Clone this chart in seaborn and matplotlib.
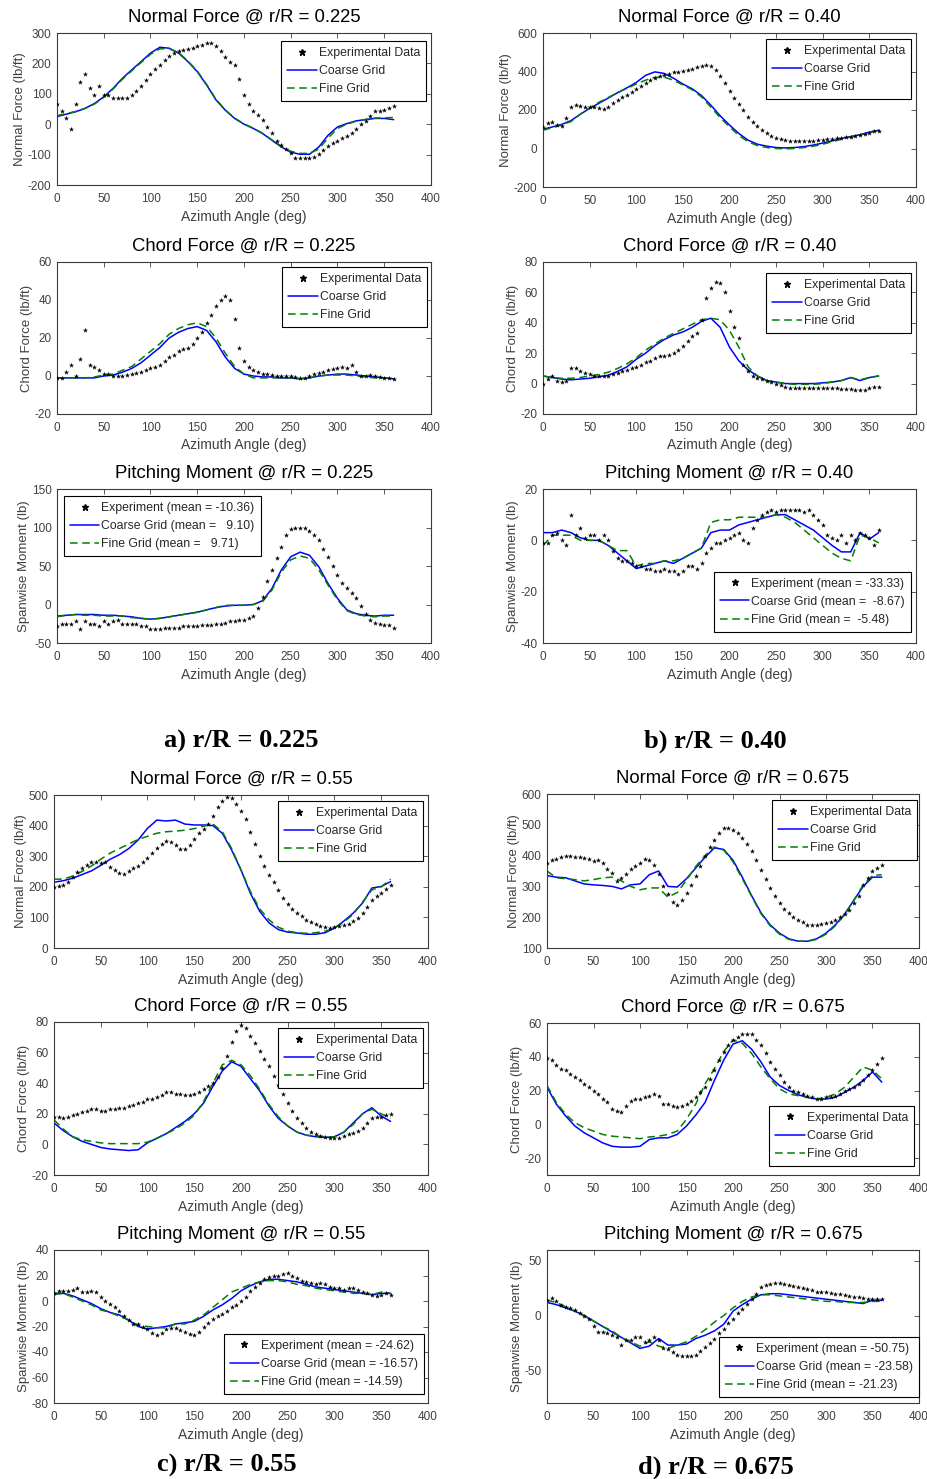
import matplotlib
matplotlib.use("Agg")
import matplotlib.pyplot as plt
import seaborn as sns
from matplotlib.lines import Line2D

# ---------------- data ----------------
EXP_AZ = list(range(0, 361, 5))
CFD_AZ = list(range(0, 361, 10))

# Normal force r/R = 0.225
NF225_EXP = [65, 45, 20, -15, 68, 140, 165, 120, 95, 125,
             95, 95, 85, 85, 85, 85, 95, 110, 125, 145,
             165, 180, 195, 210, 225, 235, 240, 243, 248, 252,
             256, 262, 268, 268, 258, 240, 222, 205, 195, 150,
             95, 65, 45, 30, 15, -10, -30, -55, -70, -80,
             -95, -110, -110, -110, -110, -108, -98, -85, -72, -62,
             -55, -45, -38, -28, -15, 0, 12, 28, 42, 45,
             47, 52, 60]
NF225_COARSE = [25, 33, 41, 52, 68, 90, 118, 151, 179, 206,
                234, 253, 250, 234, 206, 173, 129, 80, 46, 19,
                0, -14, -31, -53, -75, -92, -99, -99, -75, -36,
                -9, 2, 11, 15, 19, 19, 15]
NF225_FINE = [28, 35, 42, 52, 66, 88, 116, 148, 176, 203,
              230, 248, 248, 236, 208, 175, 131, 82, 47, 20,
              1, -13, -30, -52, -73, -89, -96, -96, -82, -45,
              -14, 0, 10, 16, 20, 21, 22]

# Normal force r/R = 0.40
NF40_EXP = [110, 135, 140, 120, 115, 160, 215, 225, 220, 215,
            215, 215, 210, 205, 215, 235, 250, 265, 280, 295,
            310, 325, 340, 355, 365, 375, 380, 385, 395, 400,
            405, 410, 415, 422, 430, 435, 430, 410, 375, 340,
            300, 260, 230, 200, 165, 140, 115, 95, 80, 65,
            55, 48, 42, 40, 38, 40, 40, 38, 38, 42,
            45, 48, 50, 52, 55, 58, 62, 65, 70, 75,
            82, 90, 92]
NF40_COARSE = [100, 112, 125, 145, 178, 208, 235, 262, 290, 315,
               343, 380, 398, 390, 365, 335, 310, 275, 225, 170,
               122, 78, 43, 22, 12, 5, 3, 5, 10, 18,
               28, 40, 52, 62, 72, 85, 95]
NF40_FINE = [95, 108, 122, 140, 178, 212, 240, 265, 290, 312,
             335, 355, 370, 370, 355, 330, 305, 268, 215, 160,
             112, 68, 35, 15, 5, 0, -2, 0, 5, 12,
             22, 35, 48, 60, 70, 82, 95]

# Chord force r/R = 0.225
CF225_EXP = [-1, -1, 2, 6, 0, 9, 24, 6, 5, 3,
             1, 1, 0, 0, 0, 0.5, 1, 1.5, 2, 3,
             4, 5, 6, 8, 10, 11, 13, 14, 15, 17,
             20, 23, 28, 32, 37, 40, 42, 40, 30, 15,
             8, 5, 3, 2, 1, 1, 0.5, 0, 0, 0,
             0, -0.5, -1, -1, 0, 1, 1.5, 2, 3, 3.5,
             4, 4.5, 4, 6, 2, 0, 0, 0.5, 0, -0.5,
             -1, -1, -1.5]
CF225_COARSE = [-1, -1, -1, -1, -1, 0, 0.5, 2, 4, 7,
                11, 15, 20, 23, 25, 26, 24, 18, 10, 4,
                1, 0, -0.5, -0.5, -1, -1, -1.5, -1, 0, 0.5,
                1, 1, 0.5, 0, -0.5, -1, -1.5]
CF225_FINE = [-1, -1, -1, -1, -0.5, 0.5, 1, 3, 5, 9,
              13, 17, 22, 25, 27, 28, 26, 20, 12, 5,
              1, -1, -1, -1, -1, -1, -1.5, -1, 0, 0.5,
              0.5, 0.5, 0, -0.5, -1, -1, -1.5]

# Chord force r/R = 0.40
CF40_EXP = [0, 3, 5, 2, 1, 2, 10, 10, 8, 7,
            6, 5, 5, 5, 5, 6, 7, 8, 9, 10,
            11, 12, 14, 15, 17, 18, 18, 19, 20, 22,
            25, 28, 31, 33, 42, 56, 63, 67, 66, 60,
            48, 37, 30, 12, 8, 5, 4, 3, 2, 1,
            0, -1, -2, -3, -3, -3, -3, -3, -3, -3,
            -3, -3, -3, -3, -3.5, -3.5, -3.5, -4, -4, -4,
            -3, -2, -2]
CF40_COARSE = [5, 4, 3, 2.5, 3, 3.5, 4.5, 5.5, 8, 11,
               16, 20, 25, 29, 32, 34, 37, 41, 43, 37,
               24, 15, 9, 5, 2, 1, 0, 0, 0, 0,
               0.5, 1, 2, 4, 2, 4, 5]
CF40_FINE = [5, 4, 3.5, 3.5, 4, 5, 6, 7.5, 10, 13,
             17, 22, 26, 30, 33, 36, 39, 42, 43, 42,
             35, 24, 11, 5, 2, 1, 0, -0.5, -0.5, -0.5,
             0, 1, 2, 4, 2.5, 4, 5]

# Pitching moment r/R = 0.225
PM225_EXP = [-28, -25, -25, -25, -22, -32, -22, -25, -25, -28,
             -22, -25, -22, -20, -25, -25, -25, -25, -28, -28,
             -32, -32, -32, -30, -30, -30, -30, -28, -28, -28,
             -28, -27, -27, -26, -25, -25, -24, -22, -22, -20,
             -20, -18, -15, -5, 10, 30, 45, 60, 75, 90,
             98, 100, 100, 100, 96, 90, 84, 72, 62, 50,
             38, 28, 21, 15, 8, -2, -12, -20, -24, -25,
             -26, -27, -30]
PM225_COARSE = [-15, -14, -13, -13, -13, -14, -14, -15, -16, -18,
                -19, -18, -16, -14, -12, -10, -7, -4, -2, -1,
                -1, 0, 5, 21, 45, 62, 68, 64, 49, 27,
                8, -7, -12, -14, -15, -14, -14]
PM225_FINE = [-16, -14, -13, -14, -14, -15, -15, -15, -17, -18,
              -19, -18, -16, -14, -12, -10, -7, -4, -1, -1,
              -1, 0, 4, 19, 42, 58, 63, 60, 45, 25,
              6, -8, -13, -15, -16, -15, -15]

# Pitching moment r/R = 0.40
PM40_EXP = [-1, -1, 2, 3, 0, -2, 10, 2, 5, 1,
            2, 2, 0, 2, 0, -4, -7, -8, -8, -9,
            -10, -10, -11, -11, -12, -12, -11, -12, -12, -13,
            -12, -10, -10, -11, -9, -5, -3, -1, -1, 0,
            1, 2, 3, 0, -1, 5, 8, 10, 11, 12,
            11, 12, 12, 12, 12, 12, 11, 12, 10, 8,
            6, 2, 1, 0, 2, -1, 2, 0, 3, 2,
            1, -2, 4]
PM40_COARSE = [3, 3, 4, 3, 1, 0, 0, -2, -5, -8,
               -11, -10, -9, -8, -9, -7, -5, -3, 3, 4,
               4, 6, 7, 8, 9, 10, 10, 8, 6, 4,
               1, -2, -4.5, -4.5, 3, 0.5, 3]
PM40_FINE = [-2, 2, 2, 2, 0, 0, 0, -2, -4, -4,
             -10, -9, -9, -8, -8, -7, -5, -3, 7, 8,
             8, 9, 9, 9, 9, 10, 9, 7, 4, 1,
             -2, -5, -7, -8, 2, 1, -1]

# Normal force r/R = 0.55
NF55_EXP = [200, 203, 205, 215, 232, 248, 262, 272, 282, 280,
            278, 280, 266, 255, 245, 243, 252, 260, 268, 280,
            295, 312, 328, 340, 350, 345, 335, 325, 325, 335,
            355, 375, 390, 405, 430, 460, 480, 495, 490, 470,
            448, 420, 380, 340, 300, 268, 240, 215, 188, 165,
            143, 128, 115, 103, 93, 85, 78, 72, 67, 66,
            70, 72, 76, 80, 87, 98, 114, 135, 158, 170,
            180, 192, 205]
NF55_COARSE = [215, 220, 228, 240, 252, 270, 290, 305, 325, 353,
               391, 418, 415, 418, 405, 402, 402, 400, 375, 320,
               255, 179, 120, 82, 60, 52, 49, 45, 45, 50,
               65, 88, 114, 147, 196, 201, 217]
NF55_FINE = [225, 225, 235, 250, 268, 290, 310, 325, 340, 355,
             365, 375, 380, 382, 385, 390, 398, 405, 380, 325,
             255, 185, 128, 92, 68, 55, 50, 48, 50, 55,
             65, 85, 110, 150, 190, 200, 225]

# Normal force r/R = 0.675
NF675_EXP = [375, 385, 390, 395, 400, 398, 395, 395, 393, 390,
             382, 385, 375, 355, 343, 316, 327, 340, 355, 365,
             375, 390, 385, 370, 340, 300, 275, 250, 241, 255,
             280, 305, 333, 365, 398, 428, 452, 475, 490, 490,
             484, 472, 457, 437, 414, 385, 354, 325, 295, 270,
             246, 228, 214, 202, 192, 183, 176, 175, 175, 178,
             180, 185, 192, 200, 210, 225, 245, 268, 306, 328,
             349, 360, 370]
NF675_COARSE = [335, 330, 328, 318, 308, 305, 303, 300, 292, 305,
                308, 338, 350, 300, 298, 325, 360, 395, 425, 420,
                385, 330, 270, 215, 175, 148, 130, 122, 122, 130,
                148, 175, 210, 255, 300, 330, 330]
NF675_FINE = [350, 328, 325, 322, 318, 322, 328, 330, 318, 300,
              289, 295, 295, 265, 280, 320, 365, 400, 428, 418,
              380, 325, 268, 212, 172, 145, 128, 122, 122, 128,
              145, 172, 208, 255, 305, 335, 338]

# Chord force r/R = 0.55
CF55_EXP = [18, 18, 17, 18, 19, 20, 21, 22, 23, 23,
            22, 22, 23, 23, 24, 24, 25, 26, 27, 28,
            30, 30, 31, 32, 34, 34, 33, 33, 32, 32,
            33, 34, 36, 38, 40, 44, 50, 58, 67, 74,
            78, 76, 71, 66, 61, 56, 51, 45, 39, 33,
            27, 22, 17, 14, 11, 8, 6.5, 5.5, 5, 4,
            4, 4.5, 5.5, 6.5, 7.5, 9, 11, 14, 17, 18,
            18, 19, 20]
CF55_COARSE = [14, 9, 5, 2, 0, -2, -3, -3.5, -4, -3.5,
               1, 4, 7, 11, 15, 20, 27, 38, 48, 54,
               51, 43, 35, 25, 17, 12, 8, 6, 5, 4.5,
               5, 8, 14, 20, 24, 18.5, 15]
CF55_FINE = [16, 10, 5, 3, 2, 1, 0.5, 0.5, 0.5, 0.5,
             1.5, 4, 7, 10, 14, 19, 28, 40, 52, 55,
             52, 45, 36, 26, 18, 12, 8, 6, 5.5, 5,
             5, 8, 13, 20, 23, 20, 17]

# Chord force r/R = 0.675
CF675_EXP = [39, 38, 35, 33, 32, 30, 28, 26, 24, 22,
             20, 18, 15, 13, 9, 8, 7.5, 11, 14, 15,
             15, 16, 17, 18, 17, 12, 12, 11, 10, 11,
             12, 14, 16, 19, 22, 27, 32, 38, 43, 47,
             50, 52, 53.5, 53.5, 53.5, 50, 47, 42, 37, 33,
             29, 25, 22, 20, 19, 18, 17, 16, 15, 15,
             16, 16, 17, 18, 20, 21, 22, 24, 26, 29,
             32, 36, 39]
CF675_COARSE = [22, 12, 5, -1, -5, -8, -11, -13, -13.5, -13.5,
                -13, -9, -8, -8, -6, -1, 5.5, 13, 26, 38,
                47.5, 49.5, 44.5, 37, 28, 23, 20, 17.5, 16, 15,
                15, 16, 19, 22, 26, 31, 25]
CF675_FINE = [23, 13, 6, 1, -2, -4, -6, -7, -7.5, -8,
              -8.5, -7.5, -7, -6, -4, 3, 12, 24, 33, 43,
              50, 48, 42, 34, 27, 21, 18, 17, 16, 15,
              16, 18, 22, 28, 34, 32, 27]

# Pitching moment r/R = 0.55
PM55_EXP = [6, 8, 8, 8, 9, 10, 7, 7, 8, 7,
            3, 0, -2, -5, -8, -12, -15, -18, -18, -20,
            -22, -25, -27, -25, -22, -21, -21, -23, -24, -26,
            -27, -24, -20, -17, -14, -12, -10, -8, -5, -3,
            0, 3, 8, 11, 14, 17, 19, 20, 20, 21,
            22, 20, 18, 16, 15, 14, 13, 14, 13, 11,
            10, 10, 9, 10, 10, 9, 7, 6, 5, 4,
            5, 6, 5]
PM55_COARSE = [6, 6, 4, 1, -2, -6, -9, -11, -15, -20,
               -22, -21, -20, -18, -17, -16, -12, -7, -3, 2,
               8, 12, 15, 17, 17, 16, 15, 13, 11, 10,
               9, 8, 7, 6, 5, 6, 6]
PM55_FINE = [5, 6, 3, 0, -3, -7, -9, -12, -15, -19,
             -20, -21, -21, -18, -18, -15, -11, -5, 1, 7,
             10, 13, 15, 16, 16, 15, 13, 12, 10, 9,
             8, 7, 6, 6, 5, 7, 6]

# Pitching moment r/R = 0.675
PM675_EXP = [14, 16, 13, 10, 8, 7, 5, 2, 0, -3,
             -10, -15, -15, -16, -18, -20, -27, -22, -22, -20,
             -20, -24, -22, -20, -22, -30, -31, -33, -36, -37,
             -37, -37, -36, -32, -29, -25, -21, -16, -12, -7,
             -3, 2, 6, 11, 15, 20, 26, 28, 29, 30,
             30, 29, 28, 27, 26, 25, 24, 23, 22, 22,
             22, 21, 20, 20, 19, 18, 17, 17, 16, 15,
             15, 15, 15]
PM675_COARSE = [12, 10, 7, 4, 0, -5, -10, -15, -20, -25,
                -30, -28, -21, -27, -27, -26, -21, -18, -14, -8,
                4, 10, 15, 19, 20, 20, 19, 18, 17, 16,
                15, 14, 13, 12, 11, 14, 14]
PM675_FINE = [14, 12, 8, 4, 0, -5, -10, -14, -20, -24,
              -28, -24, -28, -30, -27, -24, -19, -13, -6, 0,
              7, 13, 17, 19, 19, 18, 17, 16, 15, 14,
              13, 13, 12, 12, 12, 13, 13]

STD_LABELS = ["Experimental Data", "Coarse Grid", "Fine Grid"]
PM225_LABELS = ["Experiment (mean = -10.36)", "Coarse Grid (mean =   9.10)", "Fine Grid (mean =   9.71)"]
PM40_LABELS = ["Experiment (mean = -33.33)", "Coarse Grid (mean =  -8.67)", "Fine Grid (mean =  -5.48)"]
PM55_LABELS = ["Experiment (mean = -24.62)", "Coarse Grid (mean = -16.57)", "Fine Grid (mean = -14.59)"]
PM675_LABELS = ["Experiment (mean = -50.75)", "Coarse Grid (mean = -23.58)", "Fine Grid (mean = -21.23)"]

CAPTIONS = ["a) r/R = 0.225", "b) r/R = 0.40", "c) r/R = 0.55", "d) r/R = 0.675"]

# ---------------- styling ----------------
sns.set_theme(style="white")
plt.rcParams["font.family"] = ["Liberation Sans", "DejaVu Sans"]
plt.rcParams["axes.unicode_minus"] = False
plt.rcParams["axes.edgecolor"] = "#3a3a3a"
plt.rcParams["axes.linewidth"] = 0.8

W, H = 928, 1479
fig = plt.figure(figsize=(W / 100, H / 100), dpi=100)
fig.patch.set_facecolor("white")

NF_LABEL = "Normal Force (lb/ft)"
CF_LABEL = "Chord Force (lb/ft)"
PM_LABEL = "Spanwise Moment (lb)"

panels = [
    dict(title="Normal Force @ r/R = 0.225", ylabel=NF_LABEL, exp=NF225_EXP, coarse=NF225_COARSE, fine=NF225_FINE,
         ylim=(-200, 300), yticks=[-200, -100, 0, 100, 200, 300], box=(57, 33, 431, 185),
         labels=STD_LABELS, loc="upper right", anchor=(426, 41)),
    dict(title="Chord Force @ r/R = 0.225", ylabel=CF_LABEL, exp=CF225_EXP, coarse=CF225_COARSE, fine=CF225_FINE,
         ylim=(-20, 60), yticks=[-20, 0, 20, 40, 60], box=(57, 262, 431, 414),
         labels=STD_LABELS, loc="upper right", anchor=(427, 267)),
    dict(title="Pitching Moment @ r/R = 0.225", ylabel=PM_LABEL, exp=PM225_EXP, coarse=PM225_COARSE, fine=PM225_FINE,
         ylim=(-50, 150), yticks=[-50, 0, 50, 100, 150], box=(57, 489, 431, 643),
         labels=PM225_LABELS, loc="upper left", anchor=(64, 496)),
    dict(title="Normal Force @ r/R = 0.40", ylabel=NF_LABEL, exp=NF40_EXP, coarse=NF40_COARSE, fine=NF40_FINE,
         ylim=(-200, 600), yticks=[-200, 0, 200, 400, 600], box=(543, 33, 916, 187),
         labels=STD_LABELS, loc="upper right", anchor=(911, 39)),
    dict(title="Chord Force @ r/R = 0.40", ylabel=CF_LABEL, exp=CF40_EXP, coarse=CF40_COARSE, fine=CF40_FINE,
         ylim=(-20, 80), yticks=[-20, 0, 20, 40, 60, 80], box=(543, 262, 916, 414),
         labels=STD_LABELS, loc="upper right", anchor=(911, 273)),
    dict(title="Pitching Moment @ r/R = 0.40", ylabel=PM_LABEL, exp=PM40_EXP, coarse=PM40_COARSE, fine=PM40_FINE,
         ylim=(-40, 20), yticks=[-40, -20, 0, 20], box=(543, 489, 916, 643),
         labels=PM40_LABELS, loc="lower right", anchor=(911, 632)),
    dict(title="Normal Force @ r/R = 0.55", ylabel=NF_LABEL, exp=NF55_EXP, coarse=NF55_COARSE, fine=NF55_FINE,
         ylim=(0, 500), yticks=[0, 100, 200, 300, 400, 500], box=(54, 795, 428, 948),
         labels=STD_LABELS, loc="upper right", anchor=(423, 801)),
    dict(title="Chord Force @ r/R = 0.55", ylabel=CF_LABEL, exp=CF55_EXP, coarse=CF55_COARSE, fine=CF55_FINE,
         ylim=(-20, 80), yticks=[-20, 0, 20, 40, 60, 80], box=(54, 1022, 428, 1175),
         labels=STD_LABELS, loc="upper right", anchor=(423, 1028)),
    dict(title="Pitching Moment @ r/R = 0.55", ylabel=PM_LABEL, exp=PM55_EXP, coarse=PM55_COARSE, fine=PM55_FINE,
         ylim=(-80, 40), yticks=[-80, -60, -40, -20, 0, 20, 40], box=(54, 1250, 428, 1403),
         labels=PM55_LABELS, loc="lower right", anchor=(424, 1394)),
    dict(title="Normal Force @ r/R = 0.675", ylabel=NF_LABEL, exp=NF675_EXP, coarse=NF675_COARSE, fine=NF675_FINE,
         ylim=(100, 600), yticks=[100, 200, 300, 400, 500, 600], box=(547, 794, 919, 948),
         labels=STD_LABELS, loc="upper right", anchor=(917, 800)),
    dict(title="Chord Force @ r/R = 0.675", ylabel=CF_LABEL, exp=CF675_EXP, coarse=CF675_COARSE, fine=CF675_FINE,
         ylim=(-30, 60), yticks=[-20, 0, 20, 40, 60], box=(547, 1023, 919, 1175),
         labels=STD_LABELS, loc="lower right", anchor=(914, 1166)),
    dict(title="Pitching Moment @ r/R = 0.675", ylabel=PM_LABEL, exp=PM675_EXP, coarse=PM675_COARSE, fine=PM675_FINE,
         ylim=(-80, 60), yticks=[-50, 0, 50], box=(547, 1250, 919, 1403),
         labels=PM675_LABELS, loc="lower right", anchor=(919, 1397)),
]

GRAY = "#404040"
BLUE = "#0000ff"
GREEN = "#008000"

for p in panels:
    l, t, r, b = p["box"]
    ax = fig.add_axes([l / W, 1 - b / H, (r - l) / W, (b - t) / H])
    ax.set_facecolor("white")
    sns.lineplot(x=CFD_AZ, y=p["coarse"], ax=ax, color=BLUE, linewidth=1.1, legend=False, errorbar=None)
    sns.lineplot(x=CFD_AZ, y=p["fine"], ax=ax, color=GREEN, linewidth=1.1, linestyle=(0, (5, 3)),
                 legend=False, errorbar=None)
    sns.scatterplot(x=EXP_AZ, y=p["exp"], ax=ax, color="black", marker="*", s=15, linewidth=0,
                    legend=False, zorder=3)
    ax.set_xlim(0, 400)
    ax.set_xticks(range(0, 401, 50))
    ax.set_ylim(*p["ylim"])
    ax.set_yticks(p["yticks"])
    ax.tick_params(direction="in", top=True, right=True, length=3.5, width=0.6,
                   labelsize=8.5, colors=GRAY, pad=4)
    ax.tick_params(axis="x", pad=6)
    for s in ax.spines.values():
        s.set_visible(True)
        s.set_color("#3a3a3a")
        s.set_linewidth(0.8)
    ax.set_title(p["title"], fontsize=13.3, color="black", pad=8)
    ax.set_xlabel("Azimuth Angle (deg)", fontsize=10, color=GRAY, labelpad=3)
    ax.set_ylabel(p["ylabel"], fontsize=9.5, color=GRAY, labelpad=1)
    handles = [
        Line2D([], [], color="black", marker="*", linestyle="None", markersize=4.5),
        Line2D([], [], color=BLUE, linewidth=1.1),
        Line2D([], [], color=GREEN, linewidth=1.1, linestyle=(0, (5, 3))),
    ]
    ax_ = p["anchor"]
    leg = ax.legend(handles, p["labels"], loc=p["loc"], bbox_to_anchor=(ax_[0] / W, 1 - ax_[1] / H),
                    bbox_transform=fig.transFigure, fontsize=8.8, frameon=True, fancybox=False,
                    framealpha=1, edgecolor="black", borderaxespad=0, handlelength=2.4,
                    handletextpad=0.15, labelspacing=0.5, borderpad=0.5)
    leg.get_frame().set_linewidth(0.8)
    for txt in leg.get_texts():
        txt.set_color("#262626")

caption_pos = [(241, 741), (715, 741), (227, 1465), (716, 1467)]
for cap, (cx, cy) in zip(CAPTIONS, caption_pos):
    fig.text(cx / W, 1 - cy / H, cap, ha="center", va="center", fontsize=19,
             fontweight="bold", family=["Liberation Serif", "DejaVu Serif"], color="black")

fig.savefig("out.png", dpi=100, facecolor="white")
